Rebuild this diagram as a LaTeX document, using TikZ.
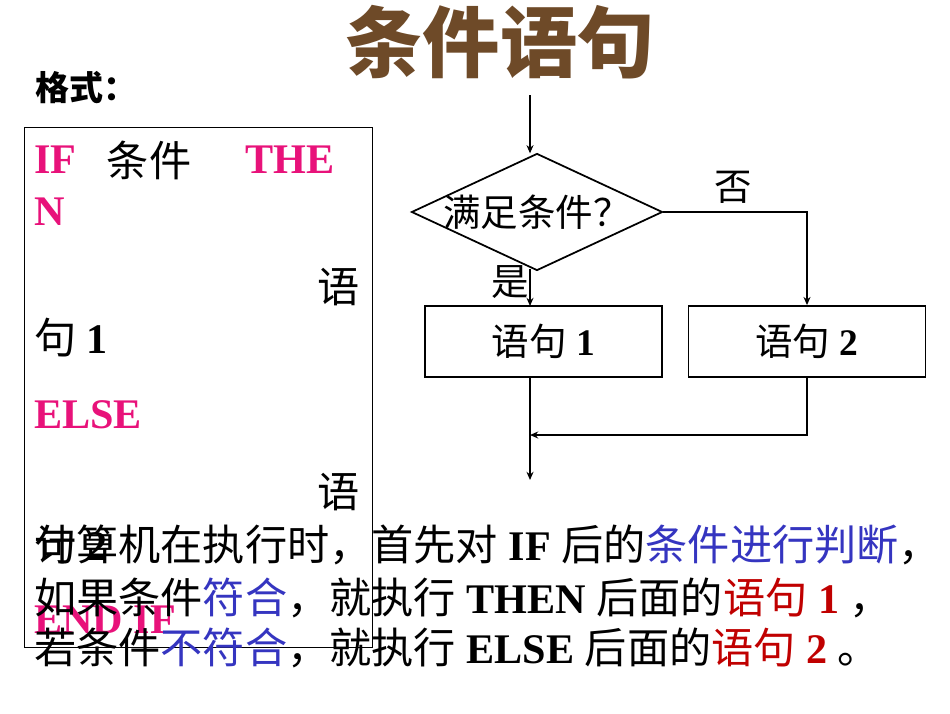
\documentclass[tikz,border=0pt]{standalone}
\usepackage{fontspec}
\setmainfont{Liberation Serif}
\newfontfamily\cjk{Noto Sans CJK SC}
\usetikzlibrary{shapes.geometric,arrows.meta}
\definecolor{mag}{HTML}{E8127A}
\definecolor{blu}{HTML}{3535C0}
\definecolor{rd}{HTML}{C00000}
\definecolor{brn}{HTML}{6E4A28}
\newcommand\Z[1]{{\cjk\mdseries #1}}
\tikzset{
  txt/.style={inner sep=0pt,anchor=west,font=\fontsize{36}{38}\selectfont\bfseries},
  fl/.style={font=\fontsize{32}{34}\selectfont\bfseries},
  box/.style={draw,line width=1.5pt,minimum width=7.11cm,minimum height=2.13cm,fl},
  con/.style={line width=1.5pt},
  arr/.style={con,-{Stealth[length=7pt,width=6pt]}}
}
\begin{document}
\begin{tikzpicture}
\useasboundingbox (0,0) rectangle (28.5,-21.39);
% title
\node[text=brn,font=\fontsize{66}{68}\selectfont\bfseries] (title) at (15.0,-1.26) {{\cjk 条件语句}};
\node[txt,font=\fontsize{29}{31}\selectfont\bfseries] (fmt) at (1.05,-2.64) {{\cjk 格式：}};
% left box
\draw[line width=0.6pt] (0.72,-3.81) rectangle (11.16,-19.41);
\node[txt,text=mag] (if) at (1.02,-4.8) {IF};
\node[txt] (cond) at (3.2,-4.8) {\Z{条件}};
\node[txt,text=mag] (the) at (7.35,-4.8) {THE};
\node[txt,text=mag] (n) at (1.02,-6.36) {N};
\node[txt,anchor=east] (y1) at (10.8,-8.6) {\Z{语}};
\node[txt] (j1) at (1.02,-10.14) {\Z{句} 1};
\node[txt,text=mag] (else) at (1.02,-12.45) {ELSE};
\node[txt,anchor=east] (y2) at (10.8,-14.76) {\Z{语}};
\node[txt] (j2) at (1.02,-16.35) {\Z{句} 2};
\node[txt,text=mag] (endif) at (1.02,-18.6) {END IF};
% overlay text
\node[txt] (l1) at (1.02,-16.35) {\Z{计算机在执行时，首先对} IF \Z{后的}\textcolor{blu}{\Z{条件进行判断}}\Z{，}};
\node[txt] (l2) at (1.02,-17.94) {\Z{如果条件}\textcolor{blu}{\Z{符合}}\Z{，就执行} THEN \Z{后面的}\textcolor{rd}{\Z{语句} 1} \Z{，}};
\node[txt] (l3) at (1.02,-19.44) {\Z{若条件}\textcolor{blu}{\Z{不符合}}\Z{，就执行} ELSE \Z{后面的}\textcolor{rd}{\Z{语句} 2} \Z{。}};
% flowchart
\coordinate (start) at (15.9,-2.85);
\node[diamond,draw,line width=1.5pt,minimum width=7.53cm,minimum height=3.51cm,aspect=2.1,inner sep=0pt] (dia) at (16.11,-6.36) {};
\node[fl] (q) at (dia.center) {\Z{满足条件？}};
\node[box] (b1) at (16.305,-10.245) {\Z{语句} 1};
\node[box] (b2) at (24.21,-10.245) {\Z{语句} 2};
\node[fl] (no) at (21.99,-5.61) {\Z{否}};
\node[fl] (yes) at (15.3,-8.46) {\Z{是}};
\coordinate (merge) at (24.21,-13.05);
\coordinate (m1) at (15.9,-13.05);
\coordinate (end) at (15.9,-14.4);
\draw[arr] (start) -- (15.9,-4.6);
\draw[arr] (dia.east) -| (b2.north);
\draw[arr] (15.9,-8.06) -- (15.9,-9.18);
\draw[arr] (15.9,-11.31) -- (end);
\draw[arr] (b2.south) -- (merge) -- (m1);
\end{tikzpicture}
\end{document}
